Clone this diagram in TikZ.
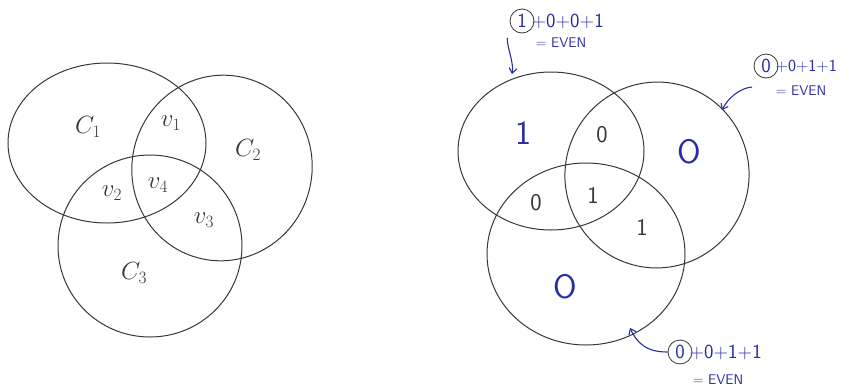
\documentclass[tikz,border=0pt]{standalone}
\usepackage{fontspec}
\usetikzlibrary{arrows.meta}
\definecolor{ink}{RGB}{55,55,55}
\definecolor{pen}{RGB}{40,45,165}
\tikzset{
  set/.style={draw=ink, line width=1pt},
  lbl/.style={font=\fontsize{24}{26}\selectfont, text=ink, inner sep=0pt},
  bigdigit/.style={font=\sffamily\fontsize{34}{36}\selectfont, text=pen, inner sep=0pt},
  smalldigit/.style={font=\sffamily\fontsize{24}{26}\selectfont, text=ink, inner sep=0pt},
  circled/.style={circle, draw=ink, line width=0.8pt, inner sep=1.5pt, minimum size=24pt, text=pen, font=\sffamily\fontsize{20}{22}\selectfont},
  sumtext/.style={text=pen, font=\sffamily\fontsize{20}{22}\selectfont, inner sep=0pt},
  eventext/.style={text=pen, font=\sffamily\fontsize{14}{16}\selectfont, inner sep=0pt},
  pointer/.style={draw=pen, line width=1.1pt, -{Straight Barb[length=5pt,width=8pt]}}
}
\begin{document}
\begin{tikzpicture}[x=1pt,y=-1pt]
\useasboundingbox (0,0) rectangle (849,389);
% ---------- left Venn diagram ----------
\draw[set] (107,143) ellipse [x radius=99pt, y radius=80pt];
\draw[set, rotate around={-15:(222,168)}] (222,168) ellipse [x radius=90pt, y radius=93pt];
\draw[set] (150,246) ellipse [x radius=92pt, y radius=91pt];
\node[lbl] (c1) at (88,127) {$C_1$};
\node[lbl] (c2) at (248,150) {$C_2$};
\node[lbl] (c3) at (134,273) {$C_3$};
\node[lbl] (v1) at (171,123) {$v_1$};
\node[lbl] (v2) at (112,193) {$v_2$};
\node[lbl] (v4) at (158,185) {$v_4$};
\node[lbl] (v3) at (204,220) {$v_3$};
% ---------- right Venn diagram ----------
\draw[set] (551,151) ellipse [x radius=93pt, y radius=79pt];
\draw[set, rotate around={-15:(657,175)}] (657,175) ellipse [x radius=92pt, y radius=93pt];
\draw[set] (586,254) ellipse [x radius=99pt, y radius=91pt];
\node[bigdigit] (a1) at (523,133) {1};
\node[bigdigit] (b0) at (689,152) {O};
\node[bigdigit] (c0) at (565,287) {O};
\node[smalldigit] (ab) at (602,135) {0};
\node[smalldigit] (ac) at (536,203) {0};
\node[smalldigit] (abc) at (593,195) {1};
\node[smalldigit] (bc) at (642,227) {1};
% ---------- annotations ----------
\node[circled] (n1) at (522,21) {1};
\node[sumtext, anchor=west] (t1) at ([xshift=-3pt]n1.east) {+0+0+1};
\node[eventext] (e1) at (561,43) {= EVEN};
\coordinate (p1) at (512,74);
\draw[pointer] (n1.south west) ++(-6,8) .. controls (507,48) and (514,62) .. (p1);

\node[circled] (n2) at (766,66) {0};
\node[sumtext, anchor=west, font=\sffamily\fontsize{17}{19}\selectfont] (t2) at ([xshift=-3pt]n2.east) {+0+1+1};
\node[eventext] (e2) at (801,91) {= EVEN};
\coordinate (p2) at (722,110);
\draw[pointer] (752,87) .. controls (740,88) and (728,98) .. (p2);

\node[circled] (n3) at (680,352) {0};
\node[sumtext, anchor=west] (t3) at ([xshift=-3pt]n3.east) {+0+1+1};
\node[eventext] (e3) at (718,380) {= EVEN};
\coordinate (p3) at (630,328);
\draw[pointer] (n3.west) .. controls (648,352) and (638,345) .. (p3);
\end{tikzpicture}
\end{document}
